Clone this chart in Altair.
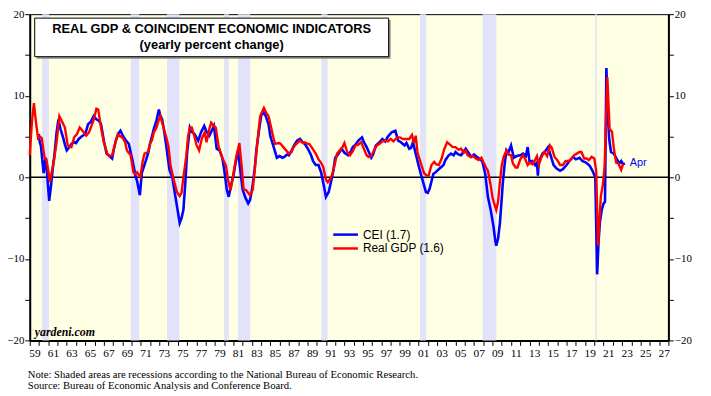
import altair as alt
import pandas as pd

# ---------------- data ----------------
cei_year = [1959.95, 1960.1, 1960.2, 1960.5, 1960.7, 1960.85, 1961.1, 1961.3, 1961.5, 1961.7, 1961.9,
            1962.1, 1962.3, 1962.6, 1962.8, 1963.0, 1963.2, 1963.5, 1963.8, 1964.0, 1964.3, 1964.6,
            1965.0, 1965.3, 1965.6, 1965.9, 1966.2, 1966.5, 1966.7, 1967.0, 1967.3, 1967.6, 1967.9,
            1968.1, 1968.3, 1968.6, 1968.8, 1969.1, 1969.4, 1969.7, 1970.1, 1970.4, 1970.6, 1970.9,
            1971.1, 1971.3, 1971.5, 1971.8, 1972.0, 1972.2, 1972.4, 1972.7, 1972.95, 1973.1, 1973.3,
            1973.5, 1973.7, 1973.9, 1974.1, 1974.4, 1974.6, 1974.9, 1975.2, 1975.4, 1975.6, 1975.8,
            1976.0, 1976.3, 1976.5, 1976.8, 1977.0, 1977.2, 1977.5, 1977.85, 1978.1, 1978.4, 1978.7,
            1978.9, 1979.2, 1979.5, 1979.8, 1980.0, 1980.3, 1980.5, 1980.7, 1981.0, 1981.2, 1981.5,
            1981.8, 1982.0, 1982.3, 1982.6, 1982.8, 1983.0, 1983.3, 1983.5, 1983.8, 1984.0, 1984.2,
            1984.5, 1984.8, 1985.0, 1985.3, 1985.7, 1986.0, 1986.3, 1986.5, 1986.8, 1987.0, 1987.3,
            1987.6, 1987.9, 1988.2, 1988.4, 1988.7, 1989.0, 1989.4, 1989.6, 1989.9, 1990.2, 1990.5,
            1990.8, 1991.0, 1991.3, 1991.5, 1991.8, 1992.0, 1992.3, 1992.7, 1993.0, 1993.4, 1993.7,
            1993.9, 1994.2, 1994.5, 1994.9, 1995.1, 1995.4, 1995.6, 1995.9, 1996.1, 1996.4, 1996.7,
            1997.1, 1997.4, 1997.7, 1998.1, 1998.5, 1998.8, 1999.1, 1999.5, 1999.7, 2000.0, 2000.2,
            2000.4, 2000.7, 2001.0, 2001.3, 2001.6, 2001.8, 2002.0, 2002.2, 2002.4, 2002.6, 2002.85,
            2003.1, 2003.4, 2003.7, 2003.9, 2004.2, 2004.5, 2004.8, 2005.0, 2005.3, 2005.6, 2005.9,
            2006.1, 2006.4, 2006.7, 2007.0, 2007.4, 2007.7, 2007.9, 2008.2, 2008.5, 2008.8, 2009.1,
            2009.3, 2009.4, 2009.6, 2009.8, 2010.0, 2010.1, 2010.3, 2010.5, 2010.7, 2011.0, 2011.3,
            2011.6, 2012.0, 2012.3, 2012.6, 2012.8, 2013.0, 2013.3, 2013.6, 2013.8, 2013.9, 2014.0,
            2014.4, 2014.7, 2015.0, 2015.3, 2015.6, 2015.9, 2016.3, 2016.6, 2017.0, 2017.3, 2017.7,
            2018.0, 2018.4, 2018.7, 2019.1, 2019.5, 2019.8, 2020.1, 2020.3, 2020.45, 2020.6, 2020.8,
            2021.0, 2021.15, 2021.3, 2021.45, 2021.6, 2021.8, 2022.1, 2022.4, 2022.7, 2022.9, 2023.1,
            2023.3]
cei_value = [5.3, 4.2, 3.9, 0.5, 2.4, 0.8, -2.9, -1.0, 1.2, 3.1, 5.5,
             7.1, 6.0, 4.9, 4.0, 3.3, 3.6, 4.1, 4.3, 4.2, 4.7, 5.0,
             5.3, 6.5, 6.8, 7.5, 7.1, 6.9, 6.5, 4.5, 2.9, 2.6, 2.3,
             3.5, 4.5, 5.4, 5.7, 5.0, 4.5, 4.1, 2.1, 0.3, -0.5, -2.2,
             0.5, 1.2, 1.9, 3.0, 4.1, 5.0, 5.9, 7.0, 8.3, 7.6, 7.1,
             5.8, 4.3, 2.5, 0.9, 0.0, -1.4, -3.5, -5.6, -5.0, -4.0, -0.8,
             3.0, 6.1, 5.6, 5.3, 4.9, 4.5, 5.5, 6.3, 5.6, 5.1, 5.8,
             6.3, 3.5, 3.3, 2.4, 1.0, -1.6, -2.4, -1.2, 0.2, 1.5, 3.3,
             0.4, -1.5, -2.5, -3.2, -2.8, -1.6, 1.0, 3.5, 6.0, 7.5, 8.1,
             7.5, 6.5, 5.0, 3.9, 2.4, 2.6, 2.4, 2.5, 2.8, 2.7, 3.3,
             4.0, 4.5, 4.7, 4.4, 4.1, 3.6, 2.7, 2.0, 1.5, 1.5, 0.5,
             -1.2, -2.4, -1.8, -0.8, 0.8, 2.4, 2.8, 3.5, 3.0, 2.7, 3.2,
             3.7, 4.0, 4.5, 4.9, 4.3, 3.7, 3.2, 2.4, 2.8, 3.9, 4.2,
             4.7, 4.4, 5.0, 5.5, 5.7, 4.5, 4.3, 3.9, 4.2, 3.5, 3.6,
             4.3, 2.9, 1.5, 0.2, -1.0, -1.8, -1.9, -1.4, -0.5, 0.4, 0.6,
             0.9, 1.2, 1.5, 2.1, 2.6, 2.9, 2.7, 3.1, 2.8, 2.7, 3.2,
             3.5, 3.0, 2.5, 2.8, 2.4, 2.2, 1.9, 0.5, -2.4, -4.0, -6.0,
             -7.8, -8.4, -7.5, -5.6, -2.5, -0.8, 1.5, 3.3, 3.0, 3.9, 2.4,
             2.6, 2.7, 2.9, 2.6, 3.7, 1.9, 2.0, 1.5, 1.8, 0.2, 1.9,
             2.9, 3.2, 3.7, 2.6, 1.5, 1.1, 0.8, 1.0, 1.5, 2.0, 2.5,
             2.2, 2.4, 2.0, 1.8, 1.4, 0.8, 0.0, -11.9, -8.0, -5.5, -4.0,
             -3.2, -3.0, 13.4, 8.0, 4.7, 3.1, 2.9, 2.3, 1.7, 2.0, 1.6,
             1.7]

gdp_year = [1959.0, 1959.25, 1959.45, 1959.7, 1959.9, 1960.1, 1960.3, 1960.6, 1960.8, 1961.0, 1961.2,
            1961.4, 1961.6, 1961.9, 1962.2, 1962.5, 1962.8, 1963.1, 1963.5, 1963.8, 1964.1, 1964.4,
            1964.7, 1965.1, 1965.4, 1965.6, 1965.9, 1966.2, 1966.4, 1966.7, 1967.0, 1967.4, 1967.6,
            1967.9, 1968.2, 1968.5, 1968.8, 1969.0, 1969.3, 1969.5, 1969.9, 1970.2, 1970.4, 1970.6,
            1970.95, 1971.2, 1971.4, 1971.6, 1971.8, 1972.0, 1972.2, 1972.4, 1972.7, 1972.9, 1973.1,
            1973.35, 1973.6, 1973.8, 1974.0, 1974.2, 1974.4, 1974.6, 1974.9, 1975.2, 1975.4, 1975.6,
            1975.9, 1976.1, 1976.3, 1976.5, 1976.8, 1977.0, 1977.3, 1977.6, 1977.9, 1978.1, 1978.4,
            1978.6, 1978.8, 1979.1, 1979.4, 1979.6, 1979.8, 1980.2, 1980.45, 1980.7, 1981.0, 1981.3,
            1981.65, 1981.9, 1982.1, 1982.4, 1982.8, 1983.1, 1983.4, 1983.7, 1983.9, 1984.3, 1984.5,
            1984.8, 1985.0, 1985.3, 1985.5, 1985.9, 1986.1, 1986.4, 1986.7, 1987.0, 1987.3, 1987.5,
            1987.8, 1988.2, 1988.5, 1988.7, 1989.0, 1989.2, 1989.5, 1989.9, 1990.2, 1990.4, 1990.7,
            1991.0, 1991.2, 1991.5, 1991.7, 1992.0, 1992.2, 1992.5, 1992.8, 1993.0, 1993.3, 1993.6,
            1993.9, 1994.2, 1994.5, 1994.8, 1995.1, 1995.4, 1995.6, 1995.9, 1996.2, 1996.5, 1996.8,
            1997.1, 1997.4, 1997.7, 1998.0, 1998.3, 1998.7, 1999.0, 1999.3, 1999.7, 2000.0, 2000.3,
            2000.5, 2000.7, 2000.9, 2001.1, 2001.4, 2001.6, 2001.9, 2002.1, 2002.4, 2002.7, 2002.9,
            2003.2, 2003.5, 2003.8, 2004.1, 2004.4, 2004.7, 2005.0, 2005.3, 2005.6, 2005.9, 2006.1,
            2006.3, 2006.6, 2006.9, 2007.2, 2007.5, 2007.8, 2008.0, 2008.3, 2008.5, 2008.8, 2009.0,
            2009.2, 2009.4, 2009.6, 2009.8, 2010.0, 2010.2, 2010.5, 2010.7, 2011.0, 2011.2, 2011.5,
            2011.7, 2012.0, 2012.3, 2012.5, 2012.8, 2013.0, 2013.3, 2013.5, 2013.8, 2014.0, 2014.3,
            2014.6, 2014.9, 2015.2, 2015.4, 2015.7, 2016.0, 2016.3, 2016.6, 2016.9, 2017.2, 2017.5,
            2017.8, 2018.1, 2018.4, 2018.6, 2018.9, 2019.2, 2019.4, 2019.7, 2020.0, 2020.2, 2020.4,
            2020.7, 2020.9, 2021.1, 2021.4, 2021.65, 2021.9, 2022.1, 2022.35, 2022.6, 2022.9, 2023.1]
gdp_value = [2.7, 7.0, 9.1, 6.5, 4.8, 5.0, 4.8, 2.4, 2.2, 0.8, -0.6,
             0.8, 1.9, 4.3, 7.5, 6.8, 6.1, 3.9, 3.7, 4.9, 5.3, 6.1,
             5.7, 5.1, 5.5, 6.1, 7.0, 8.4, 8.3, 6.1, 4.3, 2.8, 2.6,
             2.7, 4.0, 5.3, 5.0, 4.9, 4.3, 3.3, 2.7, 0.6, 0.4, 0.6,
             0.0, 2.0, 2.9, 3.0, 3.1, 4.2, 4.5, 5.5, 6.1, 6.9, 7.5,
             6.5, 5.5, 4.7, 3.7, 1.5, 0.5, -0.5, -1.8, -2.3, -1.9, 0.0,
             2.5, 5.0, 6.1, 6.1, 5.0, 4.0, 3.3, 4.8, 5.5, 4.3, 5.9,
             6.7, 6.4, 6.1, 3.8, 3.1, 2.4, 1.4, -0.5, -1.6, 0.4, 2.5,
             4.2, 1.3, -1.4, -1.6, -2.2, -1.5, 2.0, 5.5, 7.5, 8.5, 8.0,
             7.5, 6.5, 5.0, 4.1, 4.2, 4.1, 3.7, 3.3, 2.9, 3.1, 3.7,
             4.1, 4.5, 4.2, 4.3, 4.1, 4.1, 3.6, 2.9, 2.2, 1.9, 1.3,
             -0.3, -0.6, -0.1, 0.4, 1.8, 2.9, 3.3, 3.7, 4.2, 3.1, 2.7,
             3.2, 3.9, 4.0, 4.3, 3.5, 2.7, 2.5, 2.6, 3.3, 3.9, 4.1,
             4.4, 4.5, 4.4, 4.7, 4.4, 4.9, 4.9, 4.7, 4.7, 4.7, 5.2,
             4.2, 5.1, 3.0, 2.3, 1.2, 0.5, 0.2, 0.2, 1.5, 1.9, 1.6,
             1.5, 2.3, 3.5, 4.3, 4.0, 3.7, 3.7, 3.4, 3.5, 3.0, 3.3,
             2.7, 2.5, 2.6, 2.3, 2.1, 2.4, 1.9, 1.2, 0.8, -1.0, -2.5,
             -3.3, -4.0, -3.0, -0.5, 1.5, 2.5, 3.3, 2.8, 2.7, 1.7, 1.2,
             1.2, 2.2, 2.7, 2.3, 1.5, 1.8, 1.6, 1.9, 2.6, 1.5, 2.5,
             3.1, 2.6, 3.9, 3.6, 2.5, 2.1, 1.5, 1.5, 2.0, 2.0, 2.2,
             2.7, 2.9, 3.1, 3.1, 2.3, 2.3, 2.1, 2.5, 2.3, 0.8, -8.4,
             -2.3, -1.1, 1.2, 12.3, 5.9, 5.6, 3.6, 1.8, 1.7, 0.9, 1.6]

rec_start = [1960.33, 1969.92, 1973.83, 1980.0, 1981.5, 1990.5, 2001.17, 2007.92, 2020.08]
rec_end = [1961.08, 1970.83, 1975.17, 1980.5, 1982.83, 1991.17, 2001.83, 2009.42, 2020.25]

x_years = list(range(1959, 2029))
y_ticks = [-20, -15, -10, -5, 0, 5, 10, 15, 20]

title_lines = ["REAL GDP & COINCIDENT ECONOMIC INDICATORS", "(yearly percent change)"]
legend_labels = ["CEI (1.7)", "Real GDP (1.6)"]
notes = ["Note: Shaded areas are recessions according to the National Bureau of Economic Research.",
         "Source: Bureau of Economic Analysis and Conference Board."]

# ---------------- layout ----------------
W, H = 646, 330
BLUE, RED = "#0000FF", "#FF0000"
SERIF = "Liberation Serif"
SANS = "Liberation Sans"

cei_df = pd.DataFrame({"year": cei_year, "v": cei_value})
gdp_df = pd.DataFrame({"year": gdp_year, "v": gdp_value})
rec_df = pd.DataFrame({"start": rec_start, "end": rec_end})

xscale = alt.Scale(domain=[1959, 2028], nice=False, zero=False)
yscale = alt.Scale(domain=[-20, 20], nice=False)

xaxis = alt.Axis(title=None, values=x_years, tickSize=5, tickColor="black", tickWidth=1,
                 domainColor="black", domainWidth=2, grid=False,
                 labelExpr="datum.value % 2 == 1 && datum.value < 2028 ? slice(toString(datum.value), 2) : ''",
                 labelOffset=4.7, labelFlush=False, labelOverlap=False, labelPadding=2,
                 labelFont=SERIF, labelFontSize=11.5, labelColor="black")
X = alt.X("year:Q", scale=xscale, axis=xaxis)


def yaxis(orient):
    return alt.Axis(title=None, values=y_ticks, orient=orient, tickSize=5, tickColor="black",
                    domainColor="black", domainWidth=2, grid=False, labelPadding=1,
                    labelExpr="datum.value % 10 == 0 ? datum.label : ''",
                    labelFont=SERIF, labelFontSize=11, labelColor="black", labelFlush=False)


recess = alt.Chart(rec_df).mark_rect(color="#E2E2FA").encode(
    x=alt.X("start:Q", scale=xscale, axis=xaxis), x2="end:Q",
    y=alt.value(0), y2=alt.value(H))

zero = alt.Chart(pd.DataFrame({"z": [0]})).mark_rule(color="black", strokeWidth=1.5).encode(
    y=alt.Y("z:Q", scale=yscale, axis=yaxis("right")))

cei_line = alt.Chart(cei_df).mark_line(color=BLUE, strokeWidth=2.6).encode(
    x=X, y=alt.Y("v:Q", scale=yscale, axis=yaxis("left")))
gdp_line = alt.Chart(gdp_df).mark_line(color=RED, strokeWidth=2.4).encode(
    x=X, y=alt.Y("v:Q", scale=yscale, axis=None))

apr = alt.Chart(cei_df.tail(1)).mark_text(text="Apr", color=BLUE, align="left", baseline="middle",
                                          dx=5, font=SANS, fontSize=11).encode(
    x=X, y=alt.Y("v:Q", scale=yscale, axis=None))

# title box
box_shadow = alt.Chart(pd.DataFrame({"a": [0]})).mark_rect(color="#8a8a8a").encode(
    x=alt.value(7), x2=alt.value(365), y=alt.value(6), y2=alt.value(45))
box = alt.Chart(pd.DataFrame({"a": [0]})).mark_rect(fill="white", stroke="black", strokeWidth=1).encode(
    x=alt.value(5), x2=alt.value(363), y=alt.value(4), y2=alt.value(43))
t1 = alt.Chart(pd.DataFrame({"t": [title_lines[0]]})).mark_text(
    font=SANS, fontSize=13, fontWeight="bold", color="black", align="center", baseline="middle").encode(
    text="t:N", x=alt.value(184), y=alt.value(15))
t2 = alt.Chart(pd.DataFrame({"t": [title_lines[1]]})).mark_text(
    font=SANS, fontSize=13, fontWeight="bold", color="black", align="center", baseline="middle").encode(
    text="t:N", x=alt.value(184), y=alt.value(31))

# legend
leg_blue = alt.Chart(pd.DataFrame({"a": [0]})).mark_rule(color=BLUE, strokeWidth=2.5).encode(
    x=alt.value(307), x2=alt.value(332), y=alt.value(223))
leg_red = alt.Chart(pd.DataFrame({"a": [0]})).mark_rule(color=RED, strokeWidth=2.5).encode(
    x=alt.value(307), x2=alt.value(332), y=alt.value(237))
leg_t1 = alt.Chart(pd.DataFrame({"t": [legend_labels[0]]})).mark_text(
    font=SANS, fontSize=12, color="black", align="left", baseline="middle").encode(
    text="t:N", x=alt.value(337), y=alt.value(223))
leg_t2 = alt.Chart(pd.DataFrame({"t": [legend_labels[1]]})).mark_text(
    font=SANS, fontSize=12, color="black", align="left", baseline="middle").encode(
    text="t:N", x=alt.value(337), y=alt.value(237))

yardeni = alt.Chart(pd.DataFrame({"t": ["yardeni.com"]})).mark_text(
    font=SERIF, fontSize=12, fontWeight="bold", fontStyle="italic", color="black",
    align="left", baseline="middle").encode(text="t:N", x=alt.value(5), y=alt.value(322))

note1 = alt.Chart(pd.DataFrame({"t": [notes[0]]})).mark_text(
    font=SERIF, fontSize=10.8, color="black", align="left", baseline="middle").encode(
    text="t:N", x=alt.value(-2), y=alt.value(365))
note2 = alt.Chart(pd.DataFrame({"t": [notes[1]]})).mark_text(
    font=SERIF, fontSize=10.8, color="black", align="left", baseline="middle").encode(
    text="t:N", x=alt.value(-2), y=alt.value(376))

chart = alt.layer(
    recess, zero, cei_line, gdp_line, apr,
    box_shadow, box, t1, t2,
    leg_blue, leg_red, leg_t1, leg_t2, yardeni, note1, note2
).resolve_scale(y="independent").properties(
    width=W, height=H,
    autosize=alt.AutoSizeParams(type="none"),
    padding={"left": 22, "top": 4, "right": 35, "bottom": 54},
).configure_view(fill="#FFFFE3", stroke="black", strokeWidth=1)

chart.save("out.html", embed_options={"renderer": "svg", "actions": False})
